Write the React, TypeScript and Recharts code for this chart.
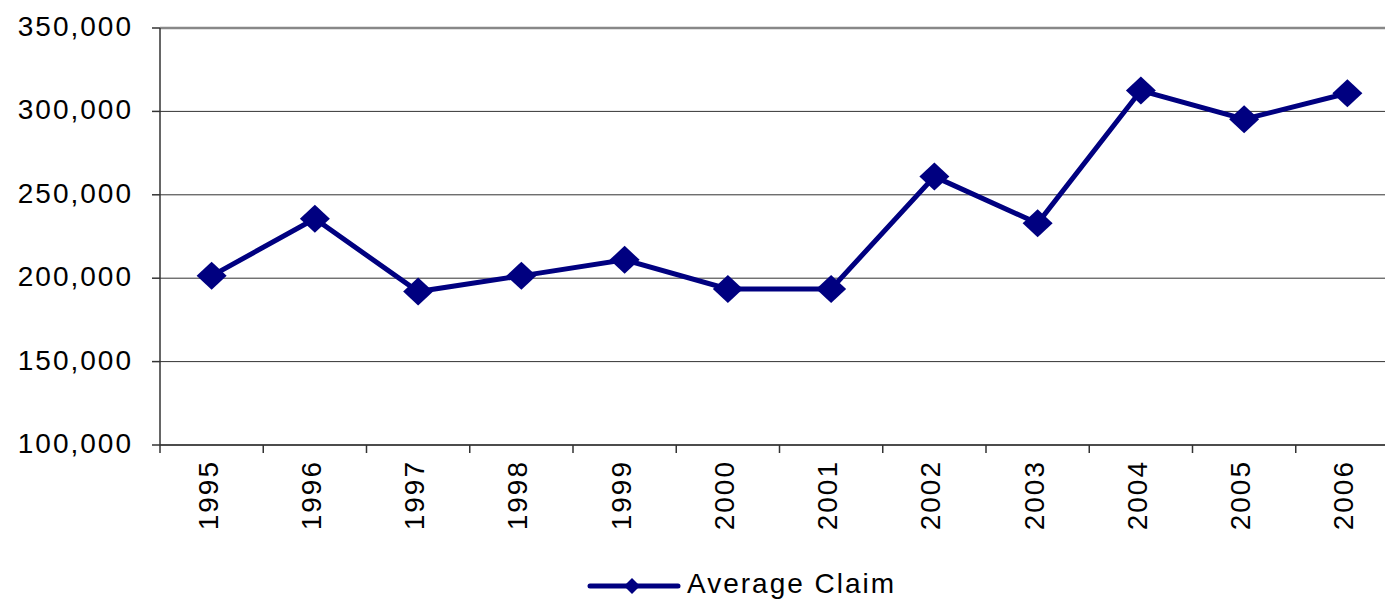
import {
  LineChart,
  Line,
  XAxis,
  YAxis,
  CartesianGrid,
  Legend,
  ReferenceLine,
} from "recharts";

const years = ["1995", "1996", "1997", "1998", "1999", "2000", "2001", "2002", "2003", "2004", "2005", "2006"];
const averageClaim = [201400, 235600, 192000, 201400, 211000, 193600, 193600, 260900, 232900, 312500, 295300, 310900];
const yTicks = [100000, 150000, 200000, 250000, 300000, 350000];
const seriesName = "Average Claim";

const data = years.map((year, i) => ({ year, claim: averageClaim[i] }));

const FONT = '"Liberation Sans", Arial, sans-serif';
const NAVY = "#000080";
const CHART_W = 1400;
const CHART_H = 601;
const X_AXIS_H = 30;
const MARGIN = { top: 28, right: 1, bottom: 156 - X_AXIS_H, left: 0 };
const Y_AXIS_W = 160;
const plotW = CHART_W - MARGIN.left - MARGIN.right - Y_AXIS_W;
const halfBand = plotW / years.length / 2;

const fmt = (v: number) => v.toLocaleString("en-US");

function Diamond(props: any) {
  const { cx, cy } = props;
  if (cx == null || cy == null) return null;
  return (
    <polygon
      points={`${cx},${cy - 14} ${cx + 15},${cy} ${cx},${cy + 14} ${cx - 15},${cy}`}
      fill={NAVY}
    />
  );
}

function YTick(props: any) {
  const { x, y, payload } = props;
  return (
    <text
      x={x}
      y={y + 8}
      textAnchor="end"
      fontFamily={FONT}
      fontSize={28}
      letterSpacing={2}
      fill="#000"
    >
      {fmt(payload.value)}
    </text>
  );
}

function XTick(props: any) {
  const { x, y, payload } = props;
  const bottom = y - 15;
  return (
    <g>
      <line x1={x - halfBand} y1={bottom} x2={x - halfBand} y2={bottom + 8} stroke="#333" strokeWidth={1.5} />
      <text
        x={x}
        y={y}
        transform={`rotate(-90, ${x}, ${y})`}
        dy={6}
        textAnchor="end"
        fontFamily={FONT}
        fontSize={28}
        letterSpacing={2}
        fill="#000"
      >
        {payload.value}
      </text>
    </g>
  );
}

function LegendBox() {
  return (
    <svg width={330} height={36}>
      <line x1={4} y1={20} x2={92} y2={20} stroke={NAVY} strokeWidth={5} strokeLinecap="round" />
      <polygon points="46,12 54,20 46,28 38,20" fill={NAVY} />
      <text x={101} y={27} fontFamily={FONT} fontSize={28} letterSpacing={2} fill="#000">
        {seriesName}
      </text>
    </svg>
  );
}

export default function App() {
  return (
    <div style={{ position: "absolute", left: 0, top: 0, width: 1385, height: 601, overflow: "hidden", background: "#fff" }}>
      <LineChart width={CHART_W} height={CHART_H} data={data} margin={MARGIN}>
        <CartesianGrid vertical={false} stroke="#333" strokeWidth={1} />
        <XAxis
          dataKey="year"
          height={X_AXIS_H}
          padding={{ left: halfBand, right: halfBand }}
          tickLine={false}
          tickSize={8}
          tickMargin={7}
          axisLine={{ stroke: "#333", strokeWidth: 1.5 }}
          tick={<XTick />}
          interval={0}
        />
        <YAxis
          width={Y_AXIS_W}
          domain={[100000, 350000]}
          ticks={yTicks}
          tickSize={8}
          tickMargin={19}
          tickLine={{ stroke: "#333", strokeWidth: 1.5 }}
          axisLine={{ stroke: "#333", strokeWidth: 1.5 }}
          tick={<YTick />}
          allowDataOverflow
        />
        <ReferenceLine y={350000} stroke="#888" strokeWidth={2.5} />
        <Line
          type="linear"
          dataKey="claim"
          name={seriesName}
          stroke={NAVY}
          strokeWidth={5}
          dot={<Diamond />}
          activeDot={false}
          isAnimationActive={false}
        />
        <Legend
          layout="horizontal"
          verticalAlign="middle"
          align="center"
          wrapperStyle={{ left: 586, top: 566, width: "auto", height: "auto" }}
          content={() => <LegendBox />}
        />
      </LineChart>
    </div>
  );
}
